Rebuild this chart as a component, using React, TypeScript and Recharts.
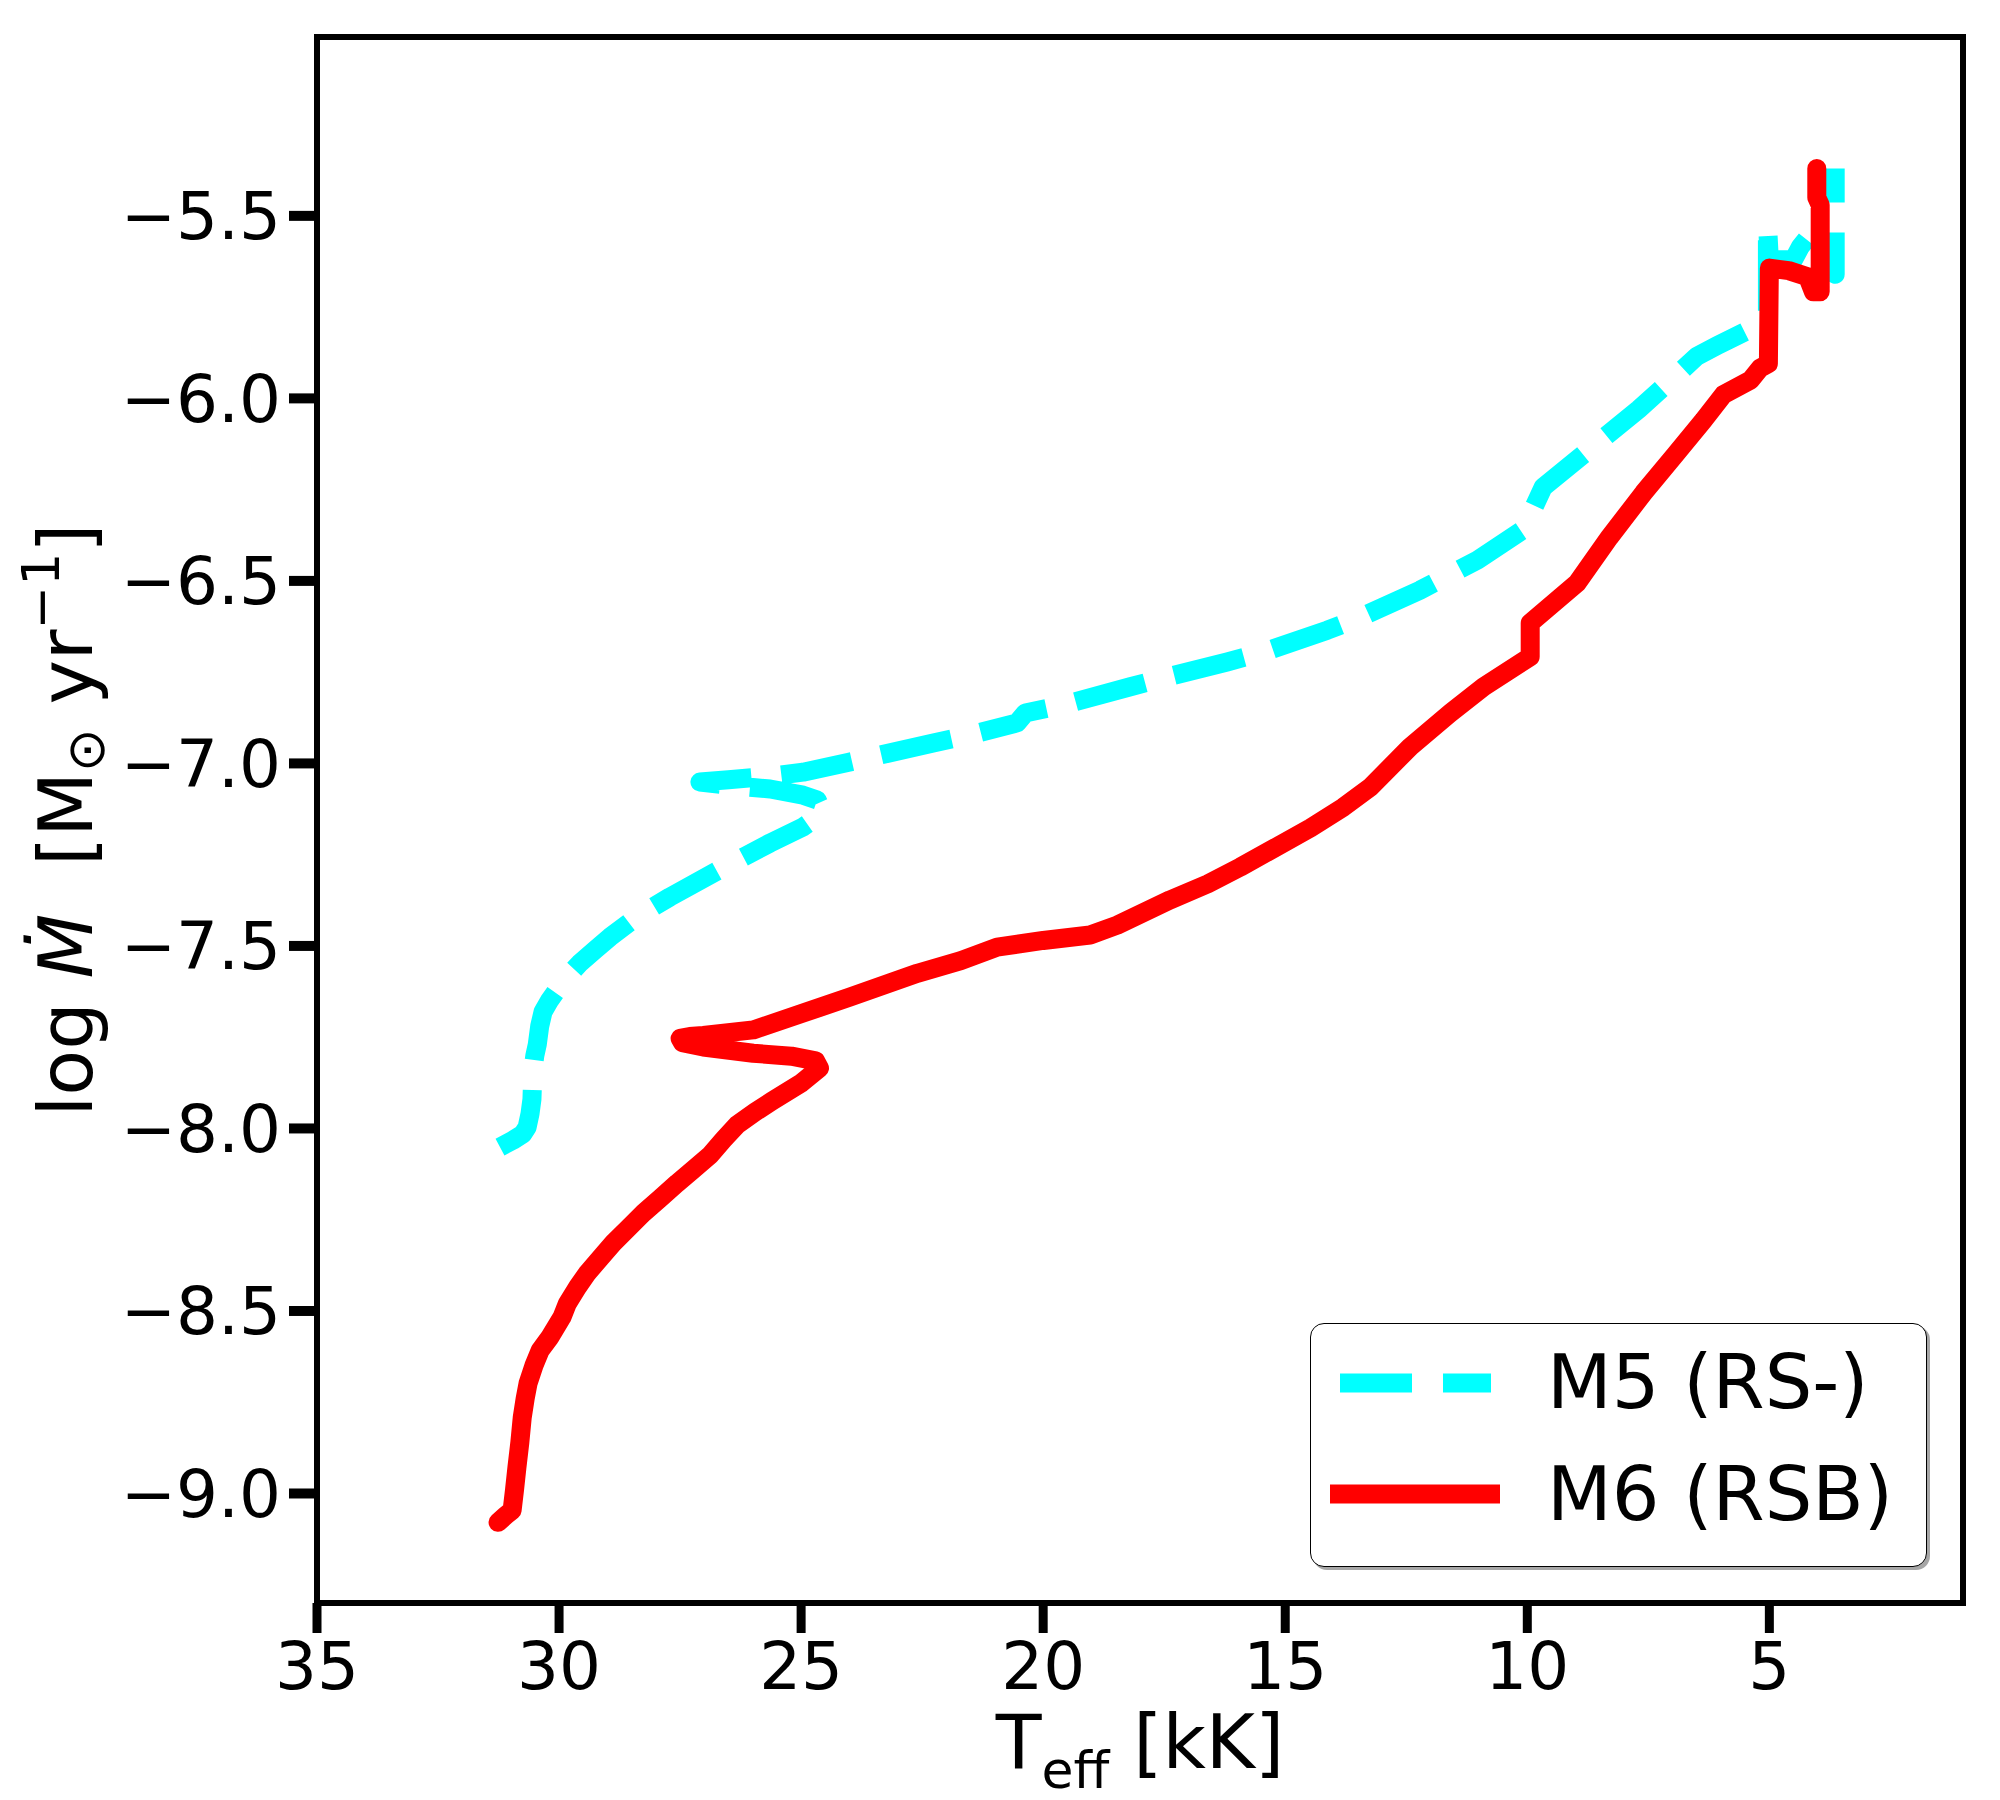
import React from "react";
import { Label, Line, LineChart, ReferenceArea, XAxis, YAxis } from "recharts";

// effective temperature (kK) vs log mass-loss rate
const m5Teff = [
  31.22, 30.95, 30.75, 30.66, 30.6, 30.56, 30.55, 30.54, 30.5, 30.45, 30.4, 30.33, 30.2, 30.04, 29.8, 29.57,
  29.25, 28.95, 28.39, 27.71, 26.67, 25.64, 24.96, 24.55,
  24.67, 24.96, 25.64, 26.5, 27.09, 26.5, 25.64, 24.96, 23.99, 22.27, 21.51, 20.54, 20.37, 19.59, 18.2, 17.52,
  16.2, 15.45, 14.13, 13.45, 12.21, 11.03, 10.0, 9.94, 9.67, 8.55, 7.7, 6.98, 6.5, 6.07, 5.39, 5.19, 5.04,
  5.04, 5.0, 4.5, 4.36, 4.09, 3.9, 3.64, 3.64,
];
const m5LogMdot = [
  -8.051, -8.032, -8.015, -7.997, -7.96, -7.92, -7.88, -7.84, -7.8, -7.77, -7.72, -7.68, -7.65, -7.62, -7.58, -7.547,
  -7.51, -7.476, -7.42, -7.366, -7.29, -7.218, -7.174, -7.136,
  -7.1, -7.087, -7.07, -7.06, -7.051, -7.045, -7.035, -7.024, -6.996, -6.944, -6.922, -6.889, -6.862, -6.84, -6.79, -6.766,
  -6.722, -6.695, -6.635, -6.6, -6.525, -6.443, -6.352, -6.32, -6.243, -6.122, -6.03, -5.944, -5.885, -5.855, -5.81, -5.785, -5.76,
  -5.52, -5.62, -5.62, -5.585, -5.54, -5.6, -5.66, -5.37,
];

const m6Teff = [
  31.26, 31.1, 30.97, 30.92, 30.87, 30.81, 30.76, 30.7, 30.64, 30.52, 30.39, 30.19, 29.94, 29.83, 29.62, 29.42,
  29.15, 28.88, 28.57, 28.26, 27.9, 27.56, 27.22, 26.88, 26.6, 26.32, 25.95, 25.6,
  25.0, 24.62, 24.7, 25.2, 25.99, 27.02, 27.45, 27.5, 27.3, 27.02, 25.99, 24.96, 23.99, 22.6, 21.7, 20.95, 20.0, 19.03,
  18.47, 17.38, 16.6, 15.93, 14.48, 13.8, 13.24, 12.42, 11.59, 10.9, 9.94, 9.94, 8.97, 8.3, 7.6, 6.95, 6.36, 5.95, 5.39, 5.19,
  5.02, 5.0, 4.6, 4.21, 4.09, 3.95, 3.95, 4.02, 4.02,
];
const m6LogMdot = [
  -9.079, -9.06, -9.046, -8.99, -8.928, -8.86, -8.791, -8.74, -8.698, -8.65, -8.608, -8.572, -8.517, -8.48, -8.435, -8.397,
  -8.355, -8.314, -8.273, -8.232, -8.19, -8.15, -8.112, -8.073, -8.03, -7.99, -7.955, -7.925,
  -7.876, -7.835, -7.815, -7.802, -7.794, -7.777, -7.765, -7.753, -7.748, -7.745, -7.73, -7.684, -7.64, -7.575, -7.54, -7.503, -7.485, -7.47,
  -7.443, -7.374, -7.33, -7.284, -7.177, -7.12, -7.065, -6.955, -6.862, -6.79, -6.708, -6.615, -6.506, -6.38, -6.259, -6.155, -6.06, -5.99, -5.95, -5.917,
  -5.905, -5.643, -5.65, -5.667, -5.708, -5.708, -5.47, -5.45, -5.37,
];

const xTicks = [35, 30, 25, 20, 15, 10, 5];
const yTicks = [-9.0, -8.5, -8.0, -7.5, -7.0, -6.5, -6.0, -5.5];
const seriesNames = ["M5 (RS-)", "M6 (RSB)"];

const m5 = m5Teff.map((t, i) => ({ teff: t, mdot: m5LogMdot[i] }));
const m6 = m6Teff.map((t, i) => ({ teff: t, mdot: m6LogMdot[i] }));

const FONT = "'DejaVu Sans', sans-serif";

function XTitle({ viewBox }: any) {
  const cx = viewBox.x + viewBox.width / 2;
  const y = viewBox.y + 165;
  return (
    <text x={cx} y={y} textAnchor="middle" fontSize={75} fill="#000" fontFamily={FONT} style={{ whiteSpace: "pre" }}>
      T
      <tspan fontSize={52} dy={20}>eff</tspan>
      <tspan dy={-20}> [kK]</tspan>
    </text>
  );
}

function YTitle({ viewBox }: any) {
  const cx = 84;
  const cy = viewBox.y + viewBox.height / 2;
  return (
    <text
      x={cx}
      y={cy}
      transform={`rotate(-90 ${cx} ${cy})`}
      textAnchor="middle"
      fontSize={75}
      fill="#000"
      fontFamily={FONT}
      style={{ whiteSpace: "pre" }}
    >
      {"log "}
      <tspan fontStyle="italic">{"\u1E40"}</tspan>
      {"  [M"}
      <tspan fontSize={52} dy={12}>{"\u2299"}</tspan>
      <tspan dy={-12}>{" yr"}</tspan>
      <tspan fontSize={52} dy={-33}>{"\u22121"}</tspan>
      <tspan dy={33}>{"]"}</tspan>
    </text>
  );
}

function ChartLegend() {
  return (
    <div
      style={{
        position: "absolute",
        left: 1302,
        top: 1315,
        width: 617,
        height: 244,
        boxSizing: "border-box",
        border: "1.5px solid #000",
        borderRadius: 14,
        background: "#fff",
        boxShadow: "3px 3px 0 rgba(0,0,0,0.35)",
      }}
    >
      <svg width={614} height={241} style={{ position: "absolute", left: -1.5, top: -1.5 }}>
        <line x1={30} y1={60} x2={181} y2={60} stroke="#00ffff" strokeWidth={19} strokeDasharray="72 31" />
        <line x1={20} y1={171} x2={190} y2={171} stroke="#ff0000" strokeWidth={19} />
        <text x={237} y={85} fontSize={75} fill="#000" fontFamily={FONT}>
          {seriesNames[0]}
        </text>
        <text x={237} y={197} fontSize={75} fill="#000" fontFamily={FONT}>
          {seriesNames[1]}
        </text>
      </svg>
    </div>
  );
}

export default function App() {
  return (
    <div style={{ position: "relative", width: 2000, height: 1800, fontFamily: FONT, background: "#fff" }}>
      <LineChart width={2000} height={1800} margin={{ top: 29, right: 45, left: 0, bottom: 0 }}>
        <XAxis
          type="number"
          dataKey="teff"
          domain={[1, 35]}
          reversed
          allowDataOverflow
          ticks={xTicks}
          interval={0}
          height={205}
          tickSize={30}
          tickMargin={9}
          axisLine={false}
          tickLine={{ stroke: "#000", strokeWidth: 9 }}
          tick={{ fill: "#000", fontSize: 66, fontFamily: FONT }}
        >
          <Label content={XTitle} />
        </XAxis>
        <YAxis
          type="number"
          dataKey="mdot"
          domain={[-9.3, -5.01]}
          allowDataOverflow
          ticks={yTicks}
          interval={0}
          width={309}
          tickSize={28}
          tickMargin={8}
          axisLine={false}
          tickLine={{ stroke: "#000", strokeWidth: 10 }}
          tick={{ fill: "#000", fontSize: 66, fontFamily: FONT }}
          tickFormatter={(v: number) => (v < 0 ? "\u2212" : "") + Math.abs(v).toFixed(1)}
        >
          <Label content={YTitle} />
        </YAxis>
        <Line
          data={m5}
          dataKey="mdot"
          name={seriesNames[0]}
          type="linear"
          stroke="#00ffff"
          strokeWidth={19}
          strokeDasharray="72 30"
          strokeLinejoin="round"
          dot={false}
          activeDot={false}
          isAnimationActive={false}
        />
        <Line
          data={m6}
          dataKey="mdot"
          name={seriesNames[1]}
          type="linear"
          stroke="#ff0000"
          strokeWidth={19}
          strokeLinejoin="round"
          strokeLinecap="round"
          dot={false}
          activeDot={false}
          isAnimationActive={false}
        />
        <ReferenceArea x1={35} x2={1} y1={-9.3} y2={-5.01} fill="none" stroke="#000" strokeWidth={6} ifOverflow="visible" />
      </LineChart>
      <ChartLegend />
    </div>
  );
}
